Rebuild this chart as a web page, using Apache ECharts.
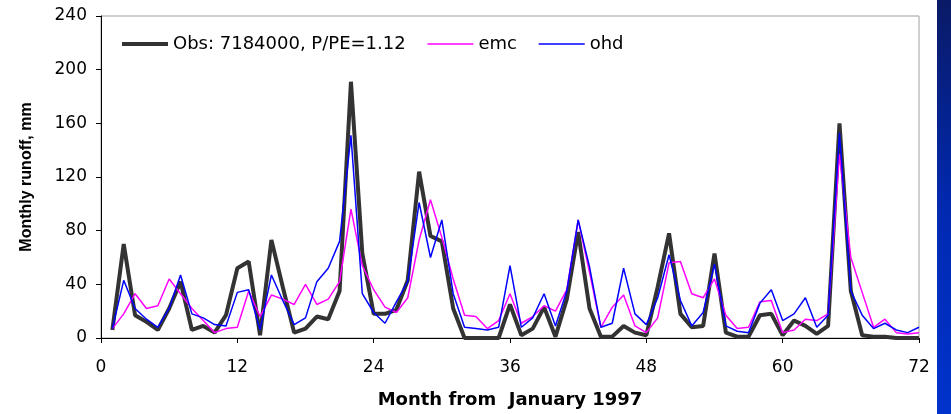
<!DOCTYPE html>
<html>
<head>
<meta charset="utf-8">
<script src="https://cdn.jsdelivr.net/npm/echarts@6/dist/echarts.min.js"></script>
<style>
html,body{margin:0;padding:0;background:#fff;}
#chart{width:951px;height:414px;}
</style>
</head>
<body>
<div id="chart"></div>
<script>
const months = [1,2,3,4,5,6,7,8,9,10,11,12,13,14,15,16,17,18,19,20,21,22,23,24,
  25,26,27,28,29,30,31,32,33,34,35,36,37,38,39,40,41,42,43,44,45,46,47,48,
  49,50,51,52,53,54,55,56,57,58,59,60,61,62,63,64,65,66,67,68,69,70,71,72];

const obs = [6,70,17,12,6,22,42,6,9,4,17,52,57,2,73,38,4,7,16,14,35,191,63,18,
  18,21,43,124,76,72,22,0,0,0,0,25,2,7,23,1,29,79,22,1,1,9,4,2,
  38,78,18,8,9,63,4,1,1,17,18,2,13,9,3,9,160,35,2,1,1,0,0,0];

const emc = [7,18,33,22,24,44,33,22,13,4,7,8,35,16,32,29,25,40,25,29,42,96,54,36,
  23,19,30,73,103,75,44,17,16,7,13,33,11,16,24,20,36,88,49,8,23,32,9,4,
  15,56,57,33,30,44,17,7,8,27,28,4,6,14,13,18,137,60,34,8,14,4,3,4];

const ohd = [7,43,22,14,8,22,47,18,15,10,9,34,36,6,47,28,10,15,42,52,72,151,33,19,
  11,27,42,101,60,88,33,8,7,6,8,54,8,15,33,9,35,88,53,8,11,52,18,10,
  30,62,28,9,19,55,9,5,4,26,36,13,18,30,8,17,153,35,17,7,11,6,4,8];

const seriesNames = ['Obs: 7184000, P/PE=1.12', 'emc', 'ohd'];
const xTitle = 'Month from  January 1997';
const yTitle = 'Monthly runoff, mm';

function pairs(vals){ return months.map((m,i)=>[m, vals[i]]); }

const chart = echarts.init(document.getElementById('chart'), null, {renderer:'canvas'});
const FONT = 'DejaVu Sans';
chart.setOption({
  animation:false,
  backgroundColor:'#ffffff',
  grid:{left:101,right:32,top:16,bottom:76,show:true,borderColor:'#a0a0a0',borderWidth:1,backgroundColor:'#fff'},
  legend:{
    left:115, top:30, padding:5, itemWidth:46, itemHeight:14, itemGap:21,
    itemStyle:{opacity:0},
    textStyle:{fontSize:18,fontFamily:FONT,color:'#000'},
    data:[
      {name:seriesNames[0], lineStyle:{width:4, color:'#333333'}},
      {name:seriesNames[1], lineStyle:{width:1.5, color:'#ff00ff'}},
      {name:seriesNames[2], lineStyle:{width:1.5, color:'#0000ff'}}
    ]
  },
  xAxis:{
    type:'value', min:0, max:72, interval:12,
    axisLine:{show:true,onZero:false,lineStyle:{color:'#000',width:1}},
    axisTick:{show:true,length:5,lineStyle:{color:'#000'}},
    axisLabel:{margin:21,color:'#000',fontSize:17,fontFamily:FONT},
    splitLine:{show:false},
    name:xTitle, nameLocation:'middle', nameGap:53,
    nameTextStyle:{fontWeight:'bold',fontSize:18,fontFamily:FONT,color:'#000'}
  },
  yAxis:{
    type:'value', min:0, max:240, interval:40,
    axisLine:{show:true,lineStyle:{color:'#000',width:1}},
    axisTick:{show:true,length:5,lineStyle:{color:'#000'}},
    axisLabel:{margin:14,color:'#000',fontSize:17,fontFamily:FONT},
    splitLine:{show:false},
    name:yTitle, nameLocation:'middle', nameGap:66, nameRotate:90,
    nameTextStyle:{fontWeight:'bold',fontSize:16,fontFamily:'Liberation Sans',color:'#000'}
  },
  series:[
    {name:seriesNames[0],type:'line',data:pairs(obs),symbol:'none',lineStyle:{color:'#333333',width:4},itemStyle:{color:'#333333'},z:2},
    {name:seriesNames[1],type:'line',data:pairs(emc),symbol:'none',lineStyle:{color:'#ff00ff',width:1.5},itemStyle:{color:'#ff00ff'},z:3},
    {name:seriesNames[2],type:'line',data:pairs(ohd),symbol:'none',lineStyle:{color:'#0000ff',width:1.5},itemStyle:{color:'#0000ff'},z:4}
  ],
  graphic:[{
    type:'rect', left:937, top:0, z:100,
    shape:{x:0,y:0,width:14,height:414},
    style:{fill:new echarts.graphic.LinearGradient(0,0,0,1,[{offset:0,color:'#0a1a66'},{offset:0.5,color:'#0029b0'},{offset:1,color:'#0033cc'}])}
  }]
});
</script>
</body>
</html>
